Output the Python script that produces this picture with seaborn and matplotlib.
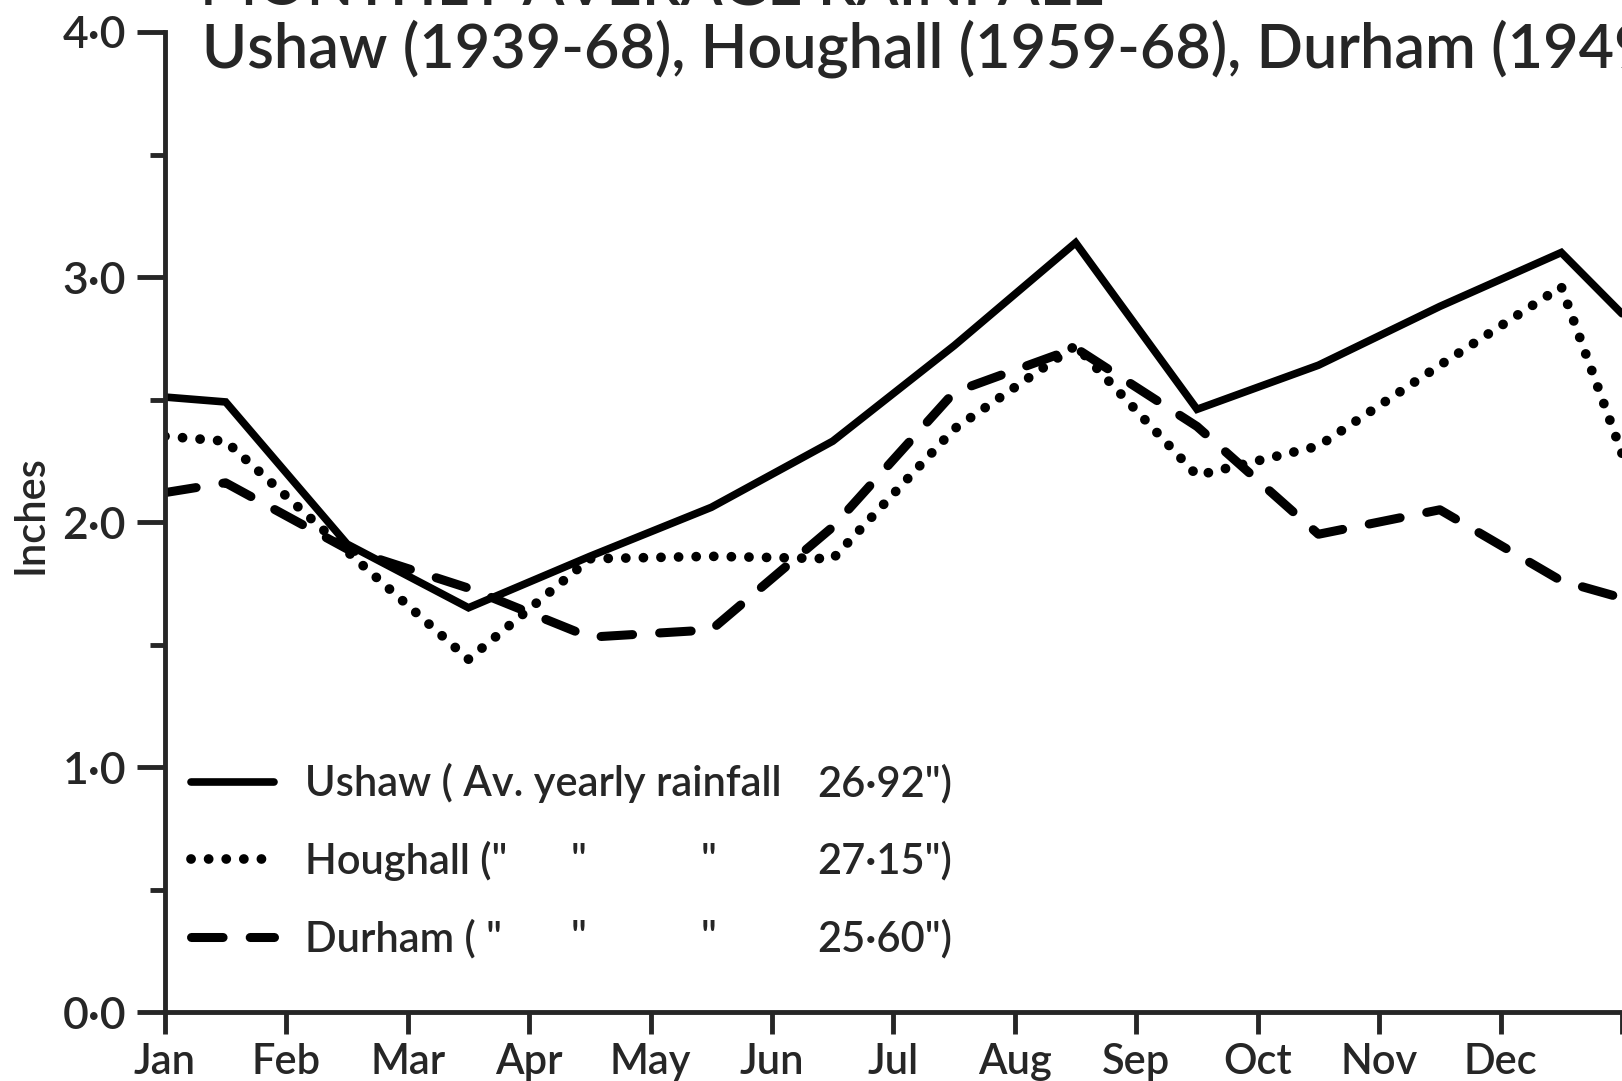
import pandas as pd
import seaborn as sns
import matplotlib.pyplot as plt

# Monthly average rainfall (inches)
months = ["Jan", "Feb", "Mar", "Apr", "May", "Jun", "Jul", "Aug", "Sep", "Oct", "Nov", "Dec"]
# points sit mid-month; the curves also start at Jan 1 and run on to the next Jan
month_pos = [0, 0.5, 1.5, 2.5, 3.5, 4.5, 5.5, 6.5, 7.5, 8.5, 9.5, 10.5, 11.5, 12]
ushaw = [2.51, 2.49, 1.91, 1.65, 1.86, 2.06, 2.33, 2.72, 3.14, 2.46, 2.64, 2.88, 3.10, 2.85]
houghall = [2.35, 2.33, 1.88, 1.44, 1.85, 1.86, 1.85, 2.38, 2.72, 2.19, 2.31, 2.64, 2.96, 2.28]
durham = [2.12, 2.16, 1.89, 1.73, 1.53, 1.56, 1.98, 2.53, 2.71, 2.39, 1.95, 2.05, 1.76, 1.69]
stations = ["Ushaw", "Houghall", "Durham"]
yearly = ["26·92", "27·15", "25·60"]

df = pd.DataFrame({
    "month": month_pos * 3,
    "rain": ushaw + houghall + durham,
    "station": [s for s in stations for _ in month_pos],
})

sns.set_style("ticks")
plt.rcParams["font.family"] = ["Lato", "DejaVu Sans"]
plt.rcParams["font.weight"] = "semibold"

fig = plt.figure(figsize=(16.22, 10.81), dpi=100)
ax = fig.add_axes([0.1017, 0.0638, 0.8983, 0.9066])

sns.lineplot(data=df, x="month", y="rain", hue="station", style="station",
             palette={s: "black" for s in stations},
             dashes={"Ushaw": "", "Houghall": (0.01, 1.8), "Durham": (3.5, 3.0)},
             legend=False, ax=ax)

widths = [5.5, 7, 6.5]
for line, w in zip(ax.lines[:3], widths):
    line.set_linewidth(w)
    line.set_dash_capstyle("round")
    line.set_solid_joinstyle("miter")

ax.set_xlim(0, 12)
ax.set_ylim(0, 4.0)
ax.set_xticks(range(13))
ax.set_xticklabels(months + [""])
ax.set_yticks([0, 1, 2, 3, 4])
ax.set_yticklabels(["0·0", "1·0", "2·0", "3·0", "4·0"])
ax.set_yticks([0.5, 1.5, 2.5, 3.5], minor=True)
ax.tick_params(axis="y", which="major", length=20, width=3.5, labelsize=32, pad=8)
ax.tick_params(axis="y", which="minor", length=11, width=3.5)
ax.tick_params(axis="x", which="major", length=16, width=3.5, labelsize=30, pad=6)
for s in ["top", "right"]:
    ax.spines[s].set_visible(False)
for s in ["left", "bottom"]:
    ax.spines[s].set_linewidth(3.5)
ax.set_xlabel("")
ax.set_ylabel("")

# legend: names in the legend, ditto marks and yearly totals in columns
names = ['Ushaw ( Av. yearly rainfall', 'Houghall ("', 'Durham ( "']
leg = ax.legend(ax.lines[:3], names, loc="upper left", bbox_to_anchor=(0.0178, 0.254),
                frameon=False, fontsize=30, handlelength=2.0, handletextpad=0.75,
                labelspacing=0.9, borderpad=0, borderaxespad=0)
fig.canvas.draw()
ditto_x = [0.284, 0.373]
value_x = 0.4475
for i, t in enumerate(leg.get_texts()):
    disp = t.get_transform().transform(t.get_position())
    _, yb = ax.transAxes.inverted().transform(disp)
    if i > 0:
        for dx in ditto_x:
            ax.text(dx, yb, '"', transform=ax.transAxes, fontsize=30, va="baseline", ha="center")
    ax.text(value_x, yb, yearly[i] + '")', transform=ax.transAxes, fontsize=30, va="baseline")

fig.text(30 / 1622, 1 - 515 / 1081, "Inches", rotation=90, fontsize=30,
         ha="center", va="center")
fig.text(200 / 1622, 1 - 6 / 1081, "MONTHLY AVERAGE RAINFALL", fontsize=44, va="baseline")
fig.text(202 / 1622, 1 - 67 / 1081, "Ushaw (1939-68), Houghall (1959-68), Durham (1949-68)",
         fontsize=44, va="baseline")

fig.savefig("out.png", dpi=100)
